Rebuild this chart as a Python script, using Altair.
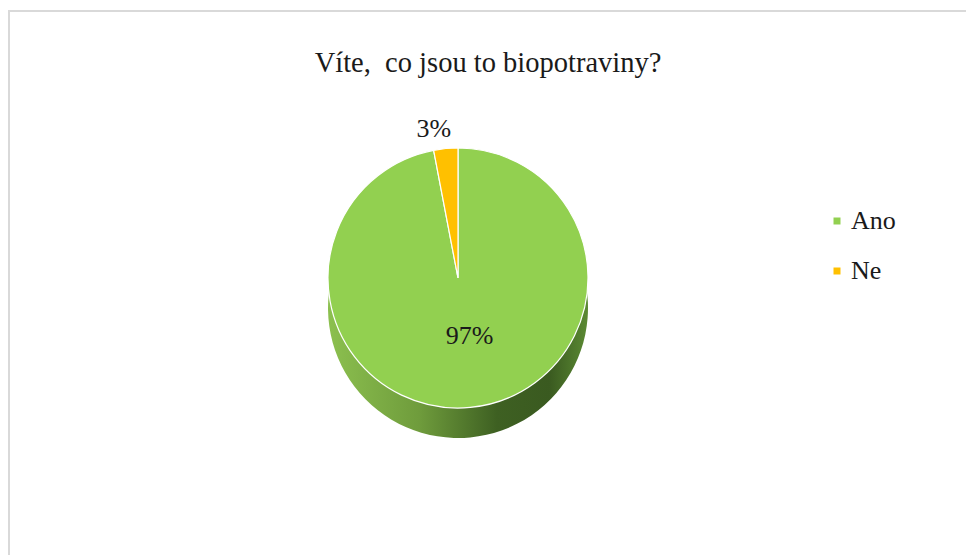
import altair as alt
import pandas as pd

categories = ["Ano", "Ne"]
values = [97, 3]
labels = ["97%", "3%"]
colors = ["#92D050", "#FFC000"]
title_text = "Víte,\u00a0 co jsou to biopotraviny?"

df = pd.DataFrame({"odpoved": categories, "hodnota": values, "popisek": labels,
                   "poradi": list(range(len(categories)))})

CX, CY, R, DEPTH = 458, 278, 130, 30
FONT = "Liberation Serif"

base = alt.Chart(df)

theta = alt.Theta("hodnota:Q", stack=True)
order = alt.Order("poradi:Q")

border = alt.Chart(df.head(1)).mark_rect(fill="white", stroke="#d9d9d9", strokeWidth=2).encode(
    x=alt.value(9), y=alt.value(11), x2=alt.value(1100), y2=alt.value(700)
)

side_gradient = {
    "gradient": "linear", "x1": 0, "y1": 0, "x2": 1, "y2": 0,
    "stops": [
        {"offset": 0.0, "color": "#8cc04f"},
        {"offset": 0.35, "color": "#6f9c3c"},
        {"offset": 0.65, "color": "#3e6022"},
        {"offset": 0.85, "color": "#3a5a20"},
        {"offset": 1.0, "color": "#5b8a33"},
    ],
}

side = base.mark_arc(radius=R, strokeWidth=0).encode(
    theta=theta, order=order,
    x=alt.value(CX), y=alt.value(CY + DEPTH),
    fill=alt.value(side_gradient),
)

top = base.mark_arc(radius=R, stroke="white", strokeWidth=1.2).encode(
    theta=theta, order=order,
    x=alt.value(CX), y=alt.value(CY),
    color=alt.Color("odpoved:N", scale=alt.Scale(domain=categories, range=colors),
                    legend=alt.Legend(title=None, orient="none", legendX=824, legendY=208,
                                      symbolType="square", symbolSize=49, symbolStrokeWidth=0,
                                      labelFont=FONT, labelFontSize=26, labelColor="#1a1a1a",
                                      labelOffset=1, rowPadding=24, padding=0)),
)

text_inner = base.transform_calculate(
    t="datum.odpoved === 'Ano' ? datum.popisek : ''"
).mark_text(font=FONT, fontSize=26, color="#1a1a1a", radius=58).encode(
    theta=theta, order=order,
    x=alt.value(CX + 6), y=alt.value(CY),
    text="t:N",
)

text_outer = base.transform_calculate(
    t="datum.odpoved === 'Ne' ? datum.popisek : ''"
).mark_text(font=FONT, fontSize=26, color="#1a1a1a", radius=R + 20).encode(
    theta=theta, order=order,
    x=alt.value(CX - 10), y=alt.value(CY),
    text="t:N",
)

title = alt.Chart(df.head(1)).mark_text(font=FONT, fontSize=28.5, color="#1a1a1a",
                                       baseline="alphabetic", align="center").encode(
    x=alt.value(488), y=alt.value(72), text=alt.value(title_text)
)

chart = alt.layer(border, side, top, text_inner, text_outer, title).properties(
    width=966, height=555, padding=0, autosize=alt.AutoSizeParams(type="none")
).configure_view(stroke=None)

chart.save("out.html", embed_options={"renderer": "svg", "actions": False})
